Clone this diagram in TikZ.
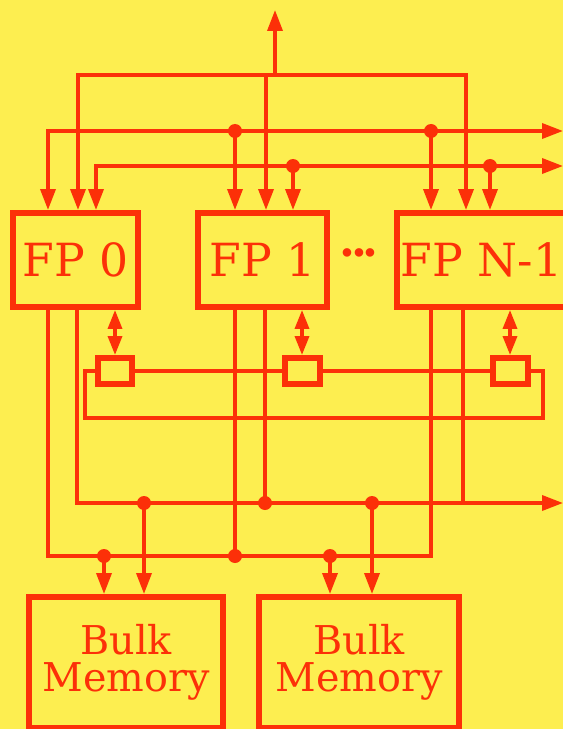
\documentclass[tikz,border=0pt]{standalone}
\usepackage{fontspec}
\setmainfont{DejaVu Serif}
\usetikzlibrary{arrows.meta}
\definecolor{paper}{RGB}{253,238,80}
\definecolor{ink}{RGB}{252,48,8}
\tikzstyle{bus}=[ink, line width=0.07cm]
\tikzstyle{feed}=[bus, -{Triangle[length=0.42cm, width=0.3cm]}]
\tikzstyle{duplex}=[bus, {Triangle[length=0.38cm, width=0.28cm]}-{Triangle[length=0.38cm, width=0.28cm]}]
\tikzstyle{fpbox}=[draw=ink, text=ink, line width=0.12cm, inner sep=0pt, minimum height=1.88cm, font=\fontsize{26}{30}\selectfont]
\tikzstyle{membox}=[draw=ink, text=ink, line width=0.12cm, inner sep=0pt, minimum height=2.62cm, align=center, font=\fontsize{22.6}{21}\selectfont]
\tikzstyle{port}=[draw=ink, line width=0.12cm, inner sep=0pt, minimum width=0.7cm, minimum height=0.52cm]
\tikzstyle{ellipsis}=[text=ink, inner sep=0pt, font=\fontsize{26}{26}\selectfont\bfseries]

\begin{document}
\begin{tikzpicture}[x=0.02cm, y=-0.02cm]
				\useasboundingbox (0,0) rectangle (563,729);
				\clip (0,0) rectangle (563,729);
				\fill[paper] (0,0) rectangle (563,729);

				\node[fpbox, minimum width=2.5cm] (fp0) at (75.5,260) {FP 0};
				\node[fpbox, minimum width=2.58cm] (fp1) at (262.5,260) {FP 1};
				\node[fpbox, minimum width=3.38cm] (fpn) at (481.5,260) {FP N-1};
				\node[ellipsis] (more) at (359,253) {.\kern-2.6pt.\kern-2.6pt.};

				\node[port] (r0) at (115,371) {};
				\node[port] (r1) at (302,371) {};
				\node[port] (rn) at (510,371) {};

				\node[membox, minimum width=3.88cm] (bm0) at (126,662.5) {Bulk\\Memory};
				\node[membox, minimum width=4cm] (bm1) at (359,662.5) {Bulk\\Memory};

				\coordinate (up) at (275,10);
				\coordinate (top) at (275,75);
				\coordinate (a0) at (78,75);
				\coordinate (a1) at (266,75);
				\coordinate (an) at (466,75);
				\coordinate (b0) at (48,131);
				\coordinate (b1) at (235,131);
				\coordinate (bn) at (431,131);
				\coordinate (bout) at (563,131);
				\coordinate (c0) at (96,166);
				\coordinate (c1) at (293,166);
				\coordinate (cn) at (490,166);
				\coordinate (cout) at (563,166);

				\coordinate (ringl) at (85,418);
				\coordinate (ringr) at (543,418);

				\coordinate (d0) at (77,503);
				\coordinate (d1) at (265,503);
				\coordinate (d2) at (144,503);
				\coordinate (d3) at (372,503);
				\coordinate (dn) at (463,503);
				\coordinate (dout) at (563,503);
				\coordinate (e0) at (48,556);
				\coordinate (e1) at (235,556);
				\coordinate (e2) at (104,556);
				\coordinate (e3) at (330,556);
				\coordinate (en) at (431,556);

				\draw[feed] (top) -- (up);
				\draw[feed] (a1) -- (a0) -- (a0 |- fp0.north);
				\draw[feed] (a1) -- (an) -- (an |- fpn.north);
				\draw[feed] (a1) -- (a1 |- fp1.north);

				\draw[feed] (b1) -- (b0) -- (b0 |- fp0.north);
				\draw[feed] (b1) -- (bout);
				\draw[feed] (b1) -- (b1 |- fp1.north);
				\draw[feed] (bn) -- (bn |- fpn.north);

				\draw[feed] (c1) -- (c0) -- (c0 |- fp0.north);
				\draw[feed] (c1) -- (cout);
				\draw[feed] (c1) -- (c1 |- fp1.north);
				\draw[feed] (cn) -- (cn |- fpn.north);

				\draw[duplex] (r0.north |- fp0.south) -- (r0.north);
				\draw[duplex] (r1.north |- fp1.south) -- (r1.north);
				\draw[duplex] (rn.north |- fpn.south) -- (rn.north);
				\draw[bus] (r0.east) -- (r1.west);
				\draw[bus] (r1.east) -- (rn.west);
				\draw[bus] (r0.west) -| (ringl) -- (ringr) |- (rn.east);

				\draw[feed] (d0 |- fp0.south) -- (d0) -- (dout);
				\draw[bus] (d1 |- fp1.south) -- (d1);
				\draw[bus] (dn |- fpn.south) -- (dn);
				\draw[bus] (e0 |- fp0.south) -- (e0) -- (en) -- (en |- fpn.south);
				\draw[bus] (e1 |- fp1.south) -- (e1);

				\draw[feed] (e2) -- (e2 |- bm0.north);
				\draw[feed] (d2) -- (d2 |- bm0.north);
				\draw[feed] (e3) -- (e3 |- bm1.north);
				\draw[feed] (d3) -- (d3 |- bm1.north);

				\fill[ink] (b1) circle [radius=0.14cm];
				\fill[ink] (bn) circle [radius=0.14cm];
				\fill[ink] (c1) circle [radius=0.14cm];
				\fill[ink] (cn) circle [radius=0.14cm];
				\fill[ink] (d1) circle [radius=0.14cm];
				\fill[ink] (d2) circle [radius=0.14cm];
				\fill[ink] (d3) circle [radius=0.14cm];
				\fill[ink] (e1) circle [radius=0.14cm];
				\fill[ink] (e2) circle [radius=0.14cm];
				\fill[ink] (e3) circle [radius=0.14cm];
			\end{tikzpicture}
\end{document}
